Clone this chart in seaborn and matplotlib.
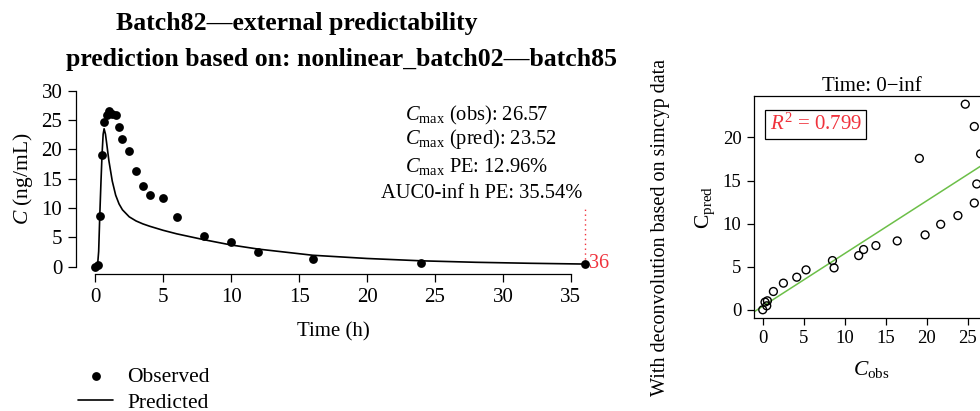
import numpy as np
import matplotlib
matplotlib.use("Agg")
import matplotlib.pyplot as plt
import seaborn as sns

# observed concentrations (ng/mL) at sampling times (h)
t_obs = [0, 0.17, 0.33, 0.5, 0.67, 0.83, 1, 1.25, 1.5, 1.75, 2, 2.5, 3, 3.5, 4,
         5, 6, 8, 10, 12, 16, 24, 36]
c_obs = [0, 0.28, 8.7, 19.1, 24.7, 25.8, 26.57, 26.1, 25.8, 23.8, 21.7, 19.8,
         16.4, 13.8, 12.3, 11.7, 8.5, 5.28, 4.15, 2.52, 1.3, 0.57, 0.49]

# predicted curve
t_curve = [0, 0.17, 0.25, 0.33, 0.42, 0.5, 0.58, 0.65, 0.75, 0.83, 1, 1.25,
           1.5, 1.75, 2, 2.5, 3, 3.5, 4, 5, 6, 8, 10, 12, 16, 20, 24, 28, 32, 36]
c_curve = [0, 0.3, 2.6, 8.6, 14.5, 19.2, 22.6, 23.52, 22.6, 21.2, 18.1, 14.6,
           12.2, 10.7, 9.7, 8.5, 7.8, 7.3, 6.9, 6.2, 5.6, 4.6, 3.7, 3.0, 1.95,
           1.4, 1.0, 0.75, 0.58, 0.45]

# predicted vs observed for the right panel
c_pred_at_obs = [0, 0.89, 4.86, 17.57, 23.86, 21.27, 18.1, 14.6, 12.39, 10.93,
                 9.92, 8.69, 7.99, 7.45, 6.99, 6.29, 5.71, 4.63, 3.78, 3.09,
                 2.12, 1.04, 0.46]

stats_lines = [r"$C_{\mathrm{max}}$ (obs): 26.57",
               r"$C_{\mathrm{max}}$ (pred): 23.52",
               r"$C_{\mathrm{max}}$ PE: 12.96%",
               "AUC0-inf h PE: 35.54%"]
r2_text = r"$R^{2}$ = 0.799"

red = "#F0323C"
green = "#6CBF48"

sns.set_theme(style="ticks")
plt.rcParams["font.family"] = ["Liberation Serif", "DejaVu Serif"]
plt.rcParams["mathtext.fontset"] = "custom"
plt.rcParams["mathtext.rm"] = "Liberation Serif"
plt.rcParams["mathtext.it"] = "Liberation Serif:italic"
plt.rcParams["mathtext.bf"] = "Liberation Serif:bold"
plt.rcParams["axes.edgecolor"] = "black"
plt.rcParams["xtick.color"] = "black"
plt.rcParams["ytick.color"] = "black"
plt.rcParams["text.color"] = "black"
plt.rcParams["axes.labelcolor"] = "black"

fig = plt.figure(figsize=(9.8, 4.11), dpi=100)

# ---- left: concentration-time profile
ax = fig.add_axes([0.0778, 0.334, 0.5242, 0.4623])
sns.scatterplot(x=t_obs, y=c_obs, ax=ax, color="black", s=40, linewidth=0,
                label="Observed", zorder=3, clip_on=False)
sns.lineplot(x=t_curve, y=c_curve, ax=ax, color="black", linewidth=1.2,
             label="Predicted")
ax.vlines(t_obs[-1], c_obs[-1], 10, colors=red, linestyles=(0, (1, 2.5)),
          linewidth=1, clip_on=False)
ax.text(t_obs[-1] + 0.3, c_obs[-1], str(t_obs[-1]), color=red, fontsize=14.5,
        va="center", ha="left")

ax.set_xlim(-1.4, 36.4)
ax.set_ylim(-1.2, 31.2)
ax.set_xticks(range(0, 36, 5))
ax.set_yticks(range(0, 31, 5))
ax.spines["left"].set_bounds(0, 30)
ax.spines["bottom"].set_bounds(0, 35)
sns.despine(ax=ax)
for s in ["left", "bottom"]:
    ax.spines[s].set_linewidth(0.9)
ax.tick_params(direction="out", length=5.5, width=0.9, labelsize=15, pad=4.5)
ax.set_xlabel("Time (h)", fontsize=15, labelpad=11)
ax.set_ylabel(r"$C$ (ng/mL)", fontsize=15.5, labelpad=5)

for i, line in enumerate(stats_lines):
    x0 = 22.8 if i < 3 else 21.0
    ax.text(x0, [24.9, 20.9, 16.1, 11.7][i], line, fontsize=14.8,
            ha="left", va="baseline")

h, l = ax.get_legend_handles_labels()
order = [l.index("Observed"), l.index("Predicted")]
ax.legend_.remove()
fig.legend([h[i] for i in order], [l[i] for i in order], loc="upper left",
           bbox_to_anchor=(0.0796, 0.108), frameon=False, fontsize=15.5,
           handlelength=1.63, handletextpad=0.65, labelspacing=0.28,
           borderaxespad=0, borderpad=0)

fig.text(297 / 980, 1 - 30 / 411, "Batch82\u2014external predictability",
         ha="center", va="baseline", fontsize=18.5, fontweight="bold")
fig.text(341 / 980, 1 - 66 / 411,
         "prediction based on: nonlinear_batch02\u2014batch85",
         ha="center", va="baseline", fontsize=18.5, fontweight="bold")

# ---- right: predicted vs observed
ax2 = fig.add_axes([0.7694, 0.2263, 0.2401, 0.5401])
ax2.set_xlim(-1.063, 27.63)
ax2.set_ylim(-0.954, 24.81)
sns.regplot(x=c_obs, y=c_pred_at_obs, ax=ax2, scatter=False, ci=None,
            truncate=False, line_kws=dict(color=green, linewidth=1.1))
sns.scatterplot(x=c_obs, y=c_pred_at_obs, ax=ax2, s=32, facecolor="none",
                edgecolor="black", linewidth=1, zorder=3)
ax2.set_xlim(-1.063, 27.63)
ax2.set_ylim(-0.954, 24.81)
ax2.set_xticks(range(0, 26, 5))
ax2.set_yticks(range(0, 21, 5))
for s in ax2.spines.values():
    s.set_linewidth(0.9)
ax2.tick_params(direction="out", length=5, width=0.9, labelsize=13.5, pad=4)
ax2.set_title("Time: 0\u2212inf", fontsize=15, pad=3)
ax2.set_xlabel(r"$C_{\mathrm{obs}}$", fontsize=15.5, labelpad=8)
ax2.set_ylabel(r"$\mathrm{C}_{\mathrm{pred}}$", fontsize=15.5, labelpad=4)
ax2.text(0.262, 0.871, r2_text, transform=ax2.transAxes, color=red,
         fontsize=15, ha="center", va="center",
         bbox=dict(boxstyle="square,pad=0.2", facecolor="white",
                   edgecolor="black", linewidth=0.9))

fig.text(660 / 980, 1 - 228 / 411, "With deconvolution based on simcyp data",
         rotation=90, ha="center", va="center", fontsize=14.5)

fig.savefig("out.png", dpi=100)
